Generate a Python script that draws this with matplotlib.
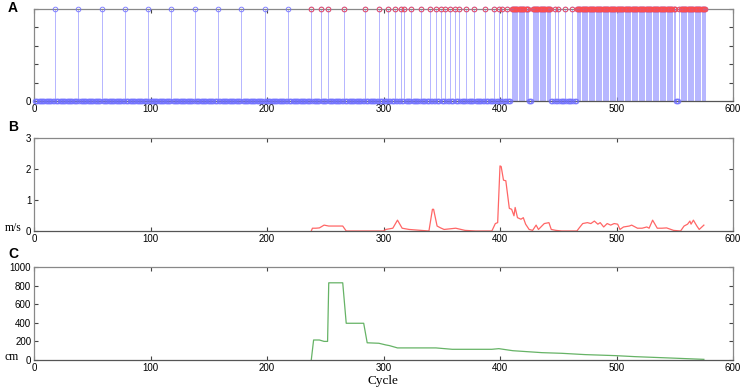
import numpy as np
import matplotlib
matplotlib.use("Agg")
import matplotlib.pyplot as plt

plt.rcParams['font.family'] = ['Liberation Sans', 'DejaVu Sans']

#===========
# DATA
#===========
n_cycles = 576
# calibration events (blue markers)
calib_events = [18, 38, 58, 78, 98, 118, 138, 158, 178, 198, 218]
# detected events after 238 (red markers)
sparse_events = [238, 246, 252, 266, 284, 296, 304, 310, 315, 318, 324, 332,
                 340, 345, 349, 353, 357, 361, 365, 371, 378, 387, 395, 399,
                 402, 406, 447, 450, 456, 462]
# runs of consecutive events (first, last)
event_runs = [(410, 424), (428, 443), (466, 550), (554, 576)]

speed_cycle = [238, 239, 242, 245, 249, 253, 265, 268, 300, 302, 308, 312, 316,
               322, 339, 342, 343, 346, 349, 352, 362, 370, 379, 393, 396, 398,
               400, 401, 403, 405, 408, 410, 412, 413, 415, 418, 420, 422, 425,
               428, 431, 433, 438, 442, 444, 448, 453, 466, 468, 471, 475, 478,
               481, 484, 486, 489, 492, 495, 498, 501, 503, 506, 511, 513, 518,
               522, 526, 528, 531, 535, 539, 543, 549, 555, 558, 561, 563, 564,
               566, 569, 571, 575]
speed_val = [0.0, 0.09, 0.09, 0.10, 0.19, 0.16, 0.16, 0.0, 0.0, 0.05, 0.09, 0.35,
             0.09, 0.05, 0.0, 0.70, 0.70, 0.16, 0.10, 0.05, 0.09, 0.02, 0.0, 0.0,
             0.24, 0.27, 2.10, 2.08, 1.64, 1.62, 0.73, 0.70, 0.49, 0.76, 0.43,
             0.38, 0.43, 0.22, 0.05, 0.02, 0.19, 0.05, 0.24, 0.27, 0.05, 0.02,
             0.0, 0.0, 0.10, 0.24, 0.27, 0.24, 0.32, 0.22, 0.27, 0.13, 0.24,
             0.19, 0.24, 0.22, 0.05, 0.13, 0.16, 0.19, 0.09, 0.09, 0.13, 0.09,
             0.35, 0.09, 0.09, 0.10, 0.02, 0.0, 0.16, 0.22, 0.32, 0.22, 0.35,
             0.16, 0.05, 0.19]

dist_cycle = [238, 240, 245, 249, 252, 253, 265, 268, 283, 286, 296, 302, 305,
              312, 345, 359, 393, 399, 411, 436, 453, 473, 499, 516, 545, 575]
dist_val = [0, 215, 215, 200, 200, 830, 830, 395, 395, 185, 180, 162, 155,
            130, 130, 115, 115, 122, 100, 79, 72, 58, 47, 36, 22, 7]

#===========
# BUILD EVENT SERIES
#===========
cycles = np.arange(1, n_cycles + 1)
events = np.zeros(n_cycles)
for c in calib_events + sparse_events:
    events[c - 1] = 1
for a, b in event_runs:
    events[a - 1:b] = 1
red_x = cycles[(events == 1) & (cycles >= 238)]

blue_line = (0.6, 0.6, 1.0)
blue = (0.45, 0.45, 1.0)
red_m = (1.0, 0.3, 0.3)
spine_c = '#888888'
tfs = 7

fig = plt.figure(figsize=(7.44, 3.91), dpi=100)
L, W = 34/744, 699/744
axA = fig.add_axes([L, 1-101/391, W, 92/391])
axB = fig.add_axes([L, 1-231/391, W, 93/391])
axC = fig.add_axes([L, 1-360/391, W, 93/391])

# panel A: stem plot
ml, sl, bl = axA.stem(cycles, events, linefmt='-', markerfmt='o', basefmt=' ')
plt.setp(sl, color=blue_line, lw=0.5)
plt.setp(ml, color=blue, mfc='none', ms=3.4, mew=0.6, clip_on=False, zorder=3)
axA.plot(red_x, np.ones(len(red_x)), 'o', mfc='none', mec=red_m, ms=3.4,
         mew=0.6, clip_on=False, zorder=4)
axA.set_ylim(0, 1)
axA.set_yticks(np.arange(0, 1.01, 0.2))
axA.set_yticklabels(['0', '', '', '', '', ''])

# panel B: speed
axB.plot(speed_cycle, speed_val, color=(1.0, 0.4, 0.4), lw=0.9)
axB.set_ylim(0, 3)
axB.set_yticks([0, 1, 2, 3])

# panel C: distance
axC.plot(dist_cycle, dist_val, color=(0.4, 0.7, 0.4), lw=0.9)
axC.set_ylim(0, 1000)
axC.set_yticks(np.arange(0, 1001, 200))

for ax in (axA, axB, axC):
    ax.set_xlim(0, 600)
    ax.set_xticks(np.arange(0, 601, 100))
    ax.tick_params(direction='in', top=True, right=True, length=3, width=0.8,
                   color='#444444', labelsize=tfs, pad=2)
    for s in ax.spines.values():
        s.set_color(spine_c)
        s.set_linewidth(0.9)
    ax.spines['bottom'].set_color('#555555')

fig.text(8/744, 1-8/391, 'A', fontsize=10, fontweight='bold', ha='left', va='center')
fig.text(8/744, 1-127/391, 'B', fontsize=10, fontweight='bold', ha='left', va='center')
fig.text(8/744, 1-254/391, 'C', fontsize=10, fontweight='bold', ha='left', va='center')
fig.text(13/744, 1-228/391, 'm/s', fontsize=8.5, family='Liberation Serif', ha='center', va='center')
fig.text(12/744, 1-357/391, 'cm', fontsize=8.5, family='Liberation Serif', ha='center', va='center')
fig.text(383/744, 1-381/391, 'Cycle', fontsize=9.5, family='Liberation Serif', ha='center', va='center')

plt.savefig("out.png", dpi=100)
